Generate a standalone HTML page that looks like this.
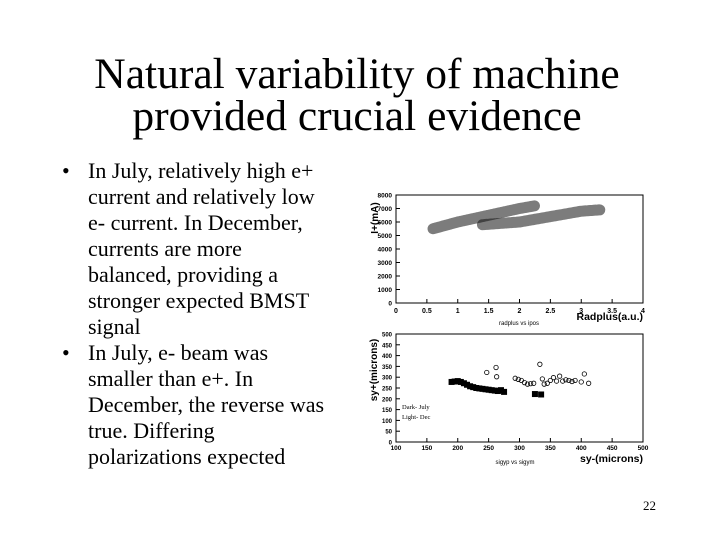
<!DOCTYPE html>
<html><head><meta charset="utf-8"><style>
body{margin:0;width:720px;height:540px;background:#fff;position:relative;overflow:hidden;font-family:"Liberation Serif",serif;color:#000}
#title{position:absolute;left:0;width:714px;top:53px;text-align:center;font-size:43.5px;line-height:42px}
#bul{position:absolute;left:62px;top:158px;width:300px;font-size:22px;line-height:26px}
.b{position:relative}
.b span{position:absolute;left:0}
.b div{margin-left:26px}
#pg{position:absolute;left:643px;top:498px;font-size:13px}
</style></head><body>
<div id="title">Natural variability of machine<br>provided crucial evidence</div>
<div id="bul">
<div class="b"><span>•</span><div>In July, relatively high e+<br>current and relatively low<br>e- current. In December,<br>currents are more<br>balanced, providing a<br>stronger expected BMST<br>signal</div></div>
<div class="b"><span>•</span><div>In July, e- beam was<br>smaller than e+. In<br>December, the reverse was<br>true. Differing<br>polarizations expected</div></div>
</div>
<div id="pg">22</div>
<svg id="c" width="720" height="540" style="position:absolute;left:0;top:0" font-family="Liberation Sans, sans-serif"></svg>
<script>
const topXTicks=[0,0.5,1,1.5,2,2.5,3,3.5,4];
const topYTicks=[0,1000,2000,3000,4000,5000,6000,7000,8000];
const band1=[[0.6,5500],[1,6000],[1.5,6500],[2,7000],[2.25,7200]];
const band2=[[1.4,5800],[2,6000],[2.5,6400],[3,6800],[3.3,6900]];
const botXTicks=[100,150,200,250,300,350,400,450,500];
const botYTicks=[0,50,100,150,200,250,300,350,400,450,500];
const julyX=[190,195,200,205,210,215,220,225,230,235,240,245,250,255,260,265,270,275,325,335];
const julyY=[278,280,282,278,272,265,258,254,250,248,246,244,242,240,238,236,240,232,222,220];
const decX=[247,262,263,293,298,303,308,313,318,323,333,337,340,345,350,355,360,365,370,375,380,385,390,400,405,412];
const decY=[322,345,302,295,290,285,275,268,270,272,360,292,268,272,285,298,282,305,282,288,285,280,285,278,315,272];
const svg=document.getElementById('c');const NS='http://www.w3.org/2000/svg';
function el(t,a,p){const e=document.createElementNS(NS,t);for(const k in a)e.setAttribute(k,a[k]);(p||svg).appendChild(e);return e;}
function txt(s,a){const e=el('text',a);e.textContent=s;return e;}
// top plot
const T={x0:396,x1:643,y0:303,y1:195};
const tx=v=>T.x0+(v-0)/4*(T.x1-T.x0), ty=v=>T.y0-(v/8000)*(T.y0-T.y1);
let r=el('rect',{x:T.x0,y:T.y1,width:T.x1-T.x0,height:T.y0-T.y1,fill:'none',stroke:'#000','stroke-width':1});

topXTicks.forEach(v=>{el('line',{x1:tx(v),x2:tx(v),y1:T.y0,y2:T.y0-4,stroke:'#000'});let t=txt(String(v),{x:tx(v),y:T.y0+10,'font-size':7,'font-weight':'bold','text-anchor':'middle'});});
topYTicks.forEach(v=>{el('line',{x1:T.x0,x2:T.x0+4,y1:ty(v),y2:ty(v),stroke:'#000'});let t=txt(String(v),{x:T.x0-4,y:ty(v)+2.5,'font-size':6.5,'font-weight':'bold','text-anchor':'end'});});
[band1,band2].forEach((b,i)=>{let p=el('polyline',{points:b.map(d=>tx(d[0])+','+ty(d[1])).join(' '),fill:'none',stroke:'#111','stroke-width':11,'stroke-opacity':0.55,'stroke-linecap':'round','stroke-dasharray':'1.5 1'});});
let a=txt('I+(mA)',{x:0,y:0,'font-size':10,'font-weight':'bold',transform:'translate(378,218) rotate(-90)','text-anchor':'middle'});
a=txt('Radplus(a.u.)',{x:643,y:320,'font-size':10.5,'font-weight':'bold','text-anchor':'end'});
a=txt('radplus vs ipos',{x:519,y:325,'font-size':6,'text-anchor':'middle'});
// bottom plot
const B={x0:396,x1:643,y0:442,y1:334};
const bx=v=>B.x0+(v-100)/400*(B.x1-B.x0), by=v=>B.y0-(v/500)*(B.y0-B.y1);
r=el('rect',{x:B.x0,y:B.y1,width:B.x1-B.x0,height:B.y0-B.y1,fill:'none',stroke:'#000','stroke-width':1});

botXTicks.forEach(v=>{el('line',{x1:bx(v),x2:bx(v),y1:B.y0,y2:B.y0-4,stroke:'#000'});let t=txt(String(v),{x:bx(v),y:B.y0+8,'font-size':6.5,'font-weight':'bold','text-anchor':'middle'});});
botYTicks.forEach(v=>{el('line',{x1:B.x0,x2:B.x0+4,y1:by(v),y2:by(v),stroke:'#000'});let t=txt(String(v),{x:B.x0-4,y:by(v)+2.5,'font-size':6,'font-weight':'bold','text-anchor':'end'});});
julyX.forEach((x,i)=>{let s=el('rect',{x:bx(x)-3,y:by(julyY[i])-3,width:6,height:6,fill:'#000'});});
decX.forEach((x,i)=>{let c=el('circle',{cx:bx(x),cy:by(decY[i]),r:2.2,fill:'none',stroke:'#000','stroke-width':0.8});});
a=txt('sy+(microns)',{x:0,y:0,'font-size':10,'font-weight':'bold',transform:'translate(377,370) rotate(-90)','text-anchor':'middle'});
a=txt('sy-(microns)',{x:643,y:462,'font-size':10.5,'font-weight':'bold','text-anchor':'end'});
a=txt('sigyp vs sigym',{x:515,y:464,'font-size':6,'text-anchor':'middle'});
a=txt('Dark- July',{x:402,y:409,'font-size':6.5,'font-family':'Liberation Serif'});
a=txt('Light- Dec',{x:402,y:419,'font-size':6.5,'font-family':'Liberation Serif'});
</script>
</body></html>
